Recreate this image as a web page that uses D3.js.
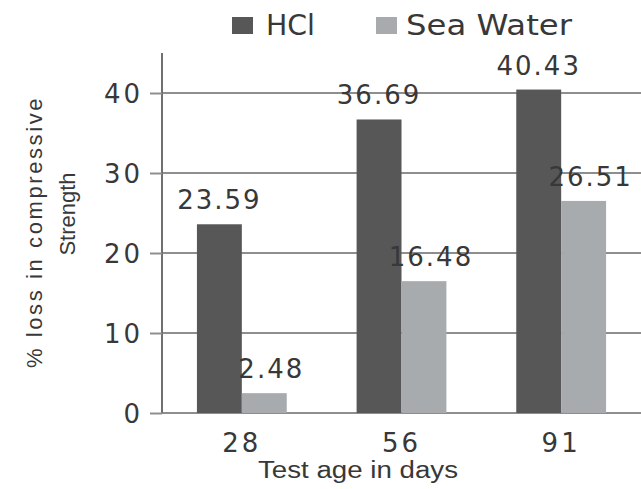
<!DOCTYPE html>
<html>
<head>
<meta charset="utf-8">
<script src="https://cdn.jsdelivr.net/npm/d3@7"></script>
<style>
  html, body { margin: 0; padding: 0; background: #fff; }
  svg { display: block; }
</style>
</head>
<body>
<svg id="chart" width="641" height="489"></svg>
<script>
// Test ages (days) and % loss in compressive strength per exposure
const categories = ["28", "56", "91"];
const seriesNames = ["HCl", "Sea Water"];
const hclValues = [23.59, 36.69, 40.43];
const seaWaterValues = [2.48, 16.48, 26.51];
const yTicks = [0, 10, 20, 30, 40];

const colors = { "HCl": "#575757", "Sea Water": "#a7abae" };
const textColor = "#383838";

const svg = d3.select("#chart");
const margin = { left: 162, right: 0, top: 53, bottom: 76 };
const W = 641, H = 489;

const x0 = d3.scaleBand()
  .domain(categories)
  .range([margin.left, W - margin.right])
  .paddingInner(0.4375)
  .paddingOuter(0.21875);
const x1 = d3.scaleBand()
  .domain(seriesNames)
  .range([0, x0.bandwidth()]);
const y = d3.scaleLinear()
  .domain([0, 45])
  .range([H - margin.bottom, margin.top]);

const rows = categories.map((c, i) => ({
  cat: c,
  values: [
    { name: "HCl", value: hclValues[i] },
    { name: "Sea Water", value: seaWaterValues[i] }
  ]
}));

// Horizontal gridlines
svg.append("g")
  .selectAll("line")
  .data(yTicks)
  .join("line")
  .attr("x1", margin.left)
  .attr("x2", W)
  .attr("y1", d => y(d))
  .attr("y2", d => y(d))
  .attr("stroke", "#8e8e8e")
  .attr("stroke-width", 2);

// Y axis with outward ticks
const yAxis = svg.append("g")
  .attr("transform", `translate(${margin.left},0)`)
  .call(d3.axisLeft(y).tickValues(yTicks).tickSize(12).tickPadding(7).tickFormat(d3.format("d")));
yAxis.select(".domain")
  .attr("d", `M0,${y(0)}V${margin.top}`)
  .attr("stroke", "#707070")
  .attr("stroke-width", 2);
yAxis.selectAll(".tick line").attr("stroke", "#8e8e8e").attr("stroke-width", 2);
yAxis.selectAll(".tick text")
  .attr("fill", textColor)
  .attr("font-family", "DejaVu Sans")
  .attr("font-size", 26)
  .attr("letter-spacing", 3)
  .attr("dy", "0.36em");

// Bars
const groups = svg.append("g")
  .selectAll("g")
  .data(rows)
  .join("g")
  .attr("transform", d => `translate(${x0(d.cat)},0)`);

groups.selectAll("rect")
  .data(d => d.values)
  .join("rect")
  .attr("x", d => x1(d.name))
  .attr("width", x1.bandwidth())
  .attr("y", d => y(d.value))
  .attr("height", d => y(0) - y(d.value))
  .attr("fill", d => colors[d.name]);

// Value labels
groups.selectAll("text")
  .data(d => d.values)
  .join("text")
  .attr("x", d => x1(d.name) + x1.bandwidth() / 2 + (d.name === "Sea Water" ? 7 : 0))
  .attr("y", d => y(d.value) - 15)
  .attr("text-anchor", "middle")
  .attr("fill", textColor)
  .attr("font-family", "DejaVu Sans")
  .attr("font-size", 26)
  .attr("letter-spacing", 2)
  .text(d => d.value.toFixed(2));

// Category labels
svg.append("g")
  .selectAll("text")
  .data(categories)
  .join("text")
  .attr("x", d => x0(d) + x0.bandwidth() / 2)
  .attr("y", 452)
  .attr("text-anchor", "middle")
  .attr("fill", textColor)
  .attr("font-family", "DejaVu Sans")
  .attr("font-size", 26)
  .attr("letter-spacing", 3)
  .text(d => d);

// X axis title
svg.append("text")
  .attr("x", 258)
  .attr("y", 478)
  .attr("fill", textColor)
  .attr("font-family", "Liberation Sans")
  .attr("font-size", 23)
  .attr("textLength", 200)
  .attr("lengthAdjust", "spacingAndGlyphs")
  .text("Test age in days");

// Y axis title (two lines)
svg.append("text")
  .attr("transform", "translate(42,232) rotate(-90)")
  .attr("text-anchor", "middle")
  .attr("fill", textColor)
  .attr("font-family", "Liberation Sans")
  .attr("font-size", 22)
  .attr("letter-spacing", 2.6)
  .text("% loss in compressive");
svg.append("text")
  .attr("transform", "translate(75,214) rotate(-90)")
  .attr("text-anchor", "middle")
  .attr("fill", textColor)
  .attr("font-family", "Liberation Sans")
  .attr("font-size", 22)
  .text("Strength");

// Legend
const legendItems = [
  { name: "HCl", sx: 232, tx: 266, len: 49 },
  { name: "Sea Water", sx: 376, tx: 406, len: 166 }
];
const legend = svg.append("g");
legend.selectAll("rect")
  .data(legendItems)
  .join("rect")
  .attr("x", d => d.sx)
  .attr("y", 17)
  .attr("width", 21)
  .attr("height", 17)
  .attr("fill", d => colors[d.name]);
legend.selectAll("text")
  .data(legendItems)
  .join("text")
  .attr("x", d => d.tx)
  .attr("y", 35)
  .attr("fill", textColor)
  .attr("font-family", "DejaVu Sans")
  .attr("font-size", 29)
  .attr("textLength", d => d.len)
  .attr("lengthAdjust", "spacingAndGlyphs")
  .text(d => d.name);
</script>
</body>
</html>
